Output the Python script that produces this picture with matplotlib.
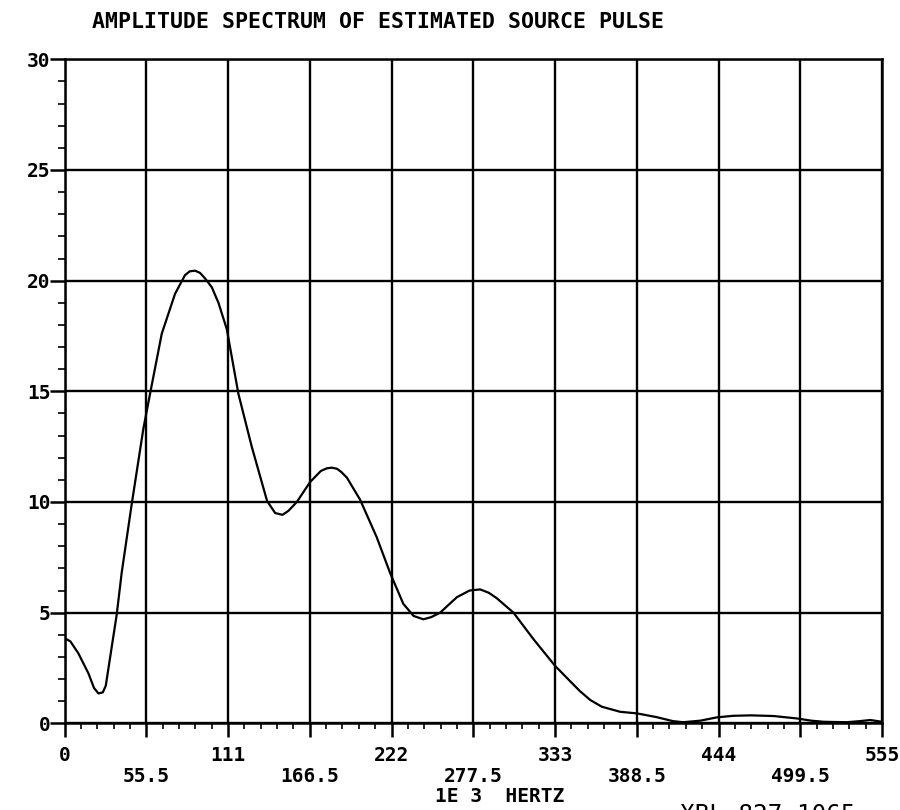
import matplotlib
matplotlib.use("Agg")
import matplotlib.pyplot as plt
from matplotlib.ticker import MultipleLocator

# frequency (1E3 hertz) and amplitude
freq = [0, 4, 9.4, 16.2, 20, 23, 26, 28, 31, 35.4, 38.8, 45.6, 53.5, 58.1,
        66, 75, 81.8, 85, 88.6, 92, 95.4, 100, 104.5, 110.2, 118, 127.1,
        137.5, 143, 148, 152, 157.7, 166.7, 174, 178, 181.5, 185, 188, 191.7,
        200.7, 212, 221, 230, 237, 243.7, 249, 255, 266.4, 275, 282.2, 288,
        293.5, 304.8, 318.4, 333, 343.3, 350, 357, 364.8, 377.3, 388.6, 402,
        413, 420, 431.6, 443, 454, 466, 481.4, 497.3, 507, 515.4, 531, 540,
        547, 554]
amp = [3.85, 3.7, 3.16, 2.26, 1.6, 1.35, 1.4, 1.7, 3.0, 4.9, 6.8, 9.9, 13.3,
       14.9, 17.6, 19.4, 20.25, 20.42, 20.45, 20.35, 20.1, 19.7, 19.0, 17.8,
       14.9, 12.5, 10.05, 9.5, 9.42, 9.6, 10.0, 10.9, 11.4, 11.52, 11.55,
       11.5, 11.35, 11.1, 10.1, 8.4, 6.8, 5.4, 4.85, 4.7, 4.8, 5.0, 5.7,
       6.0, 6.05, 5.9, 5.65, 5.0, 3.8, 2.6, 1.9, 1.45, 1.05, 0.75, 0.52,
       0.45, 0.28, 0.1, 0.05, 0.12, 0.27, 0.34, 0.36, 0.33, 0.22, 0.12,
       0.07, 0.05, 0.1, 0.15, 0.08]

xticks = [0, 55.5, 111, 166.5, 222, 277.5, 333, 388.5, 444, 499.5, 555]
xlabels = ["0", "55.5", "111", "166.5", "222", "277.5", "333", "388.5",
           "444", "499.5", "555"]
yticks = [0, 5, 10, 15, 20, 25, 30]

mono = "DejaVu Sans Mono"

fig = plt.figure(figsize=(9, 8.1), dpi=100)
ax = fig.add_axes([0.0717, 0.107, 0.9083, 0.8198])

ax.plot(freq, amp, color="black", lw=1.6)

ax.set_xlim(0, 555)
ax.set_ylim(0, 30)

# labels alternate between two rows like the plotter output
ax.set_xticks(xticks)
ax.set_xticklabels([l if i % 2 == 0 else "\n" + l for i, l in enumerate(xlabels)],
                   family=mono, fontweight="bold", fontsize=14, linespacing=1.15)
ax.set_yticks(yticks)
ax.set_yticklabels([str(v) for v in yticks], family=mono, fontweight="bold",
                   fontsize=14)
ax.xaxis.set_minor_locator(MultipleLocator(11.1))
ax.yaxis.set_minor_locator(MultipleLocator(1))

ax.tick_params(axis="x", which="major", length=10, width=1.8, pad=6)
ax.tick_params(axis="x", which="minor", length=4, width=1.2)
ax.tick_params(axis="y", which="major", length=11, width=1.8, pad=-1)
ax.tick_params(axis="y", which="minor", length=5, width=1.2)

ax.grid(True, which="major", color="black", lw=1.7)
for s in ax.spines.values():
    s.set_linewidth(1.8)

fig.text(92 / 900, 1 - 22 / 810, "AMPLITUDE SPECTRUM OF ESTIMATED SOURCE PULSE",
         family=mono, fontweight="bold", fontsize=15.5, va="center", ha="left")
fig.text(500 / 900, 1 - 797 / 810, "1E 3  HERTZ", family=mono,
         fontweight="bold", fontsize=14, va="center", ha="center")
fig.text(680 / 900, 1 - 803 / 810, "XBL 827-1065", family=mono,
         fontsize=17.5, va="top", ha="left")

fig.savefig("out.png", dpi=100)
